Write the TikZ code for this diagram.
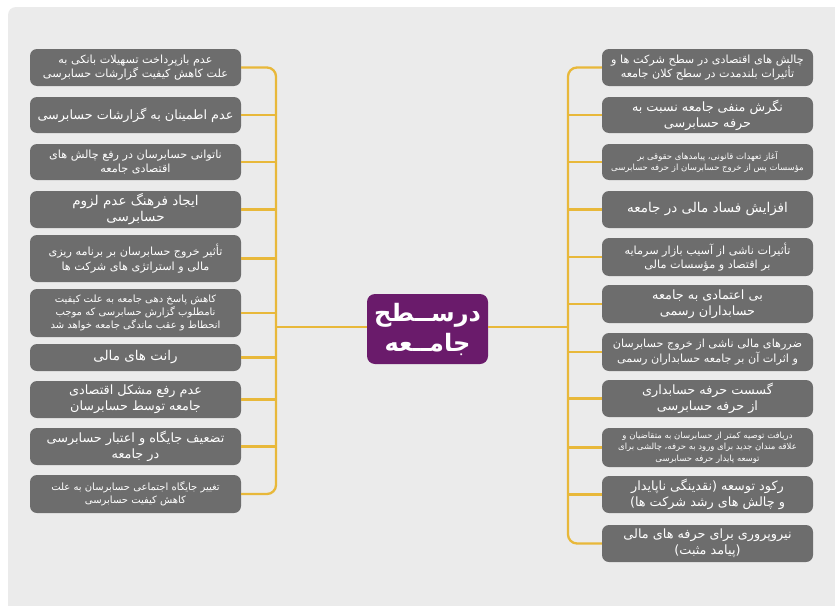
\documentclass[tikz,border=0pt]{standalone}
\usepackage{fontspec}
\newfontfamily\arabicfont[Script=Arabic]{DejaVu Sans}
\TeXXeTstate=1
\newcommand\fa[1]{\beginR #1\endR}
\definecolor{panelgray}{HTML}{EBEBEB}
\definecolor{boxgray}{HTML}{6D6D6D}
\definecolor{hubpurple}{HTML}{6A1B6B}
\definecolor{linkgold}{HTML}{E8B83A}
\tikzset{
  itembox/.style={fill=boxgray, rounded corners=7pt, minimum width=211pt, inner sep=0pt,
    text=white, align=center, font=\arabicfont\fontsize{11.2}{14.5}\selectfont},
  bigtxt/.style={font=\arabicfont\fontsize{13.5}{16}\selectfont},
  midtxt/.style={font=\arabicfont\fontsize{12.8}{16}\selectfont},
  smalltxt/.style={font=\arabicfont\fontsize{10}{13}\selectfont},
  tinytxt/.style={font=\arabicfont\fontsize{8.5}{11.5}\selectfont},
  hubbox/.style={fill=hubpurple, rounded corners=8pt, minimum width=121pt, minimum height=70pt,
    inner sep=0pt, text=white, align=center, font=\arabicfont\bfseries\fontsize{24}{30}\selectfont},
  link/.style={draw=linkgold, line width=2.3pt, rounded corners=9pt}
}
\begin{document}
\begin{tikzpicture}[x=1pt,y=-1pt]
\useasboundingbox (0,0) rectangle (835,605);
\fill[white] (0,0) rectangle (835,605);
\fill[panelgray, rounded corners=8pt] (8,7) rectangle (850,620);

% left boxes
\node[itembox, minimum height=37pt] (L1) at (135.5,67.5) {\fa{عدم بازپرداخت تسهیلات بانکی به}\\\fa{علت کاهش کیفیت گزارشات حسابرسی}};
\node[itembox, midtxt, minimum height=36pt] (L2) at (135.5,115) {\fa{عدم اطمینان به گزارشات حسابرسی}};
\node[itembox, minimum height=36pt] (L3) at (135.5,162) {\fa{ناتوانی حسابرسان در رفع چالش های}\\\fa{اقتصادی جامعه}};
\node[itembox, bigtxt, minimum height=37pt] (L4) at (135.5,209.5) {\fa{ایجاد فرهنگ عدم لزوم}\\\fa{حسابرسی}};
\node[itembox, minimum height=47pt] (L5) at (135.5,258.5) {\fa{تأثیر خروج حسابرسان بر برنامه ریزی}\\\fa{مالی و استراتژی های شرکت ها}};
\node[itembox, smalltxt, minimum height=48pt] (L6) at (135.5,313) {\fa{کاهش پاسخ دهی جامعه به علت کیفیت}\\\fa{نامطلوب گزارش حسابرسی که موجب}\\\fa{انحطاط و عقب ماندگی جامعه خواهد شد}};
\node[itembox, bigtxt, minimum height=27pt] (L7) at (135.5,357.5) {\fa{رانت های مالی}};
\node[itembox, midtxt, minimum height=37pt] (L8) at (135.5,399.5) {\fa{عدم رفع مشکل اقتصادی}\\\fa{جامعه توسط حسابرسان}};
\node[itembox, midtxt, minimum height=37pt] (L9) at (135.5,446.5) {\fa{تضعیف جایگاه و اعتبار حسابرسی}\\\fa{در جامعه}};
\node[itembox, smalltxt, minimum height=38pt] (L10) at (135.5,494) {\fa{تغییر جایگاه اجتماعی حسابرسان به علت}\\\fa{کاهش کیفیت حسابرسی}};

% right boxes
\node[itembox, minimum height=37pt] (R1) at (707.5,67.5) {\fa{چالش های اقتصادی در سطح شرکت ها و}\\\fa{تأثیرات بلندمدت در سطح کلان جامعه}};
\node[itembox, midtxt, minimum height=36pt] (R2) at (707.5,115) {\fa{نگرش منفی جامعه نسبت به}\\\fa{حرفه حسابرسی}};
\node[itembox, tinytxt, minimum height=36pt] (R3) at (707.5,162) {\fa{آغاز تعهدات قانونی، پیامدهای حقوقی بر}\\\fa{مؤسسات پس از خروج حسابرسان از حرفه حسابرسی}};
\node[itembox, bigtxt, minimum height=37pt] (R4) at (707.5,209.5) {\fa{افزایش فساد مالی در جامعه}};
\node[itembox, minimum height=38pt] (R5) at (707.5,257) {\fa{تأثیرات ناشی از آسیب بازار سرمایه}\\\fa{بر اقتصاد و مؤسسات مالی}};
\node[itembox, midtxt, minimum height=38pt] (R6) at (707.5,304) {\fa{بی اعتمادی به جامعه}\\\fa{حسابداران رسمی}};
\node[itembox, minimum height=38pt] (R7) at (707.5,352) {\fa{ضررهای مالی ناشی از خروج حسابرسان}\\\fa{و اثرات آن بر جامعه حسابداران رسمی}};
\node[itembox, midtxt, minimum height=37pt] (R8) at (707.5,398.5) {\fa{گسست حرفه حسابداری}\\\fa{از حرفه حسابرسی}};
\node[itembox, tinytxt, minimum height=39pt] (R9) at (707.5,447.5) {\fa{دریافت توصیه کمتر از حسابرسان به متقاضیان و}\\\fa{علاقه مندان جدید برای ورود به حرفه، چالشی برای}\\\fa{توسعه پایدار حرفه حسابرسی}};
\node[itembox, midtxt, minimum height=37pt] (R10) at (707.5,494.5) {\fa{رکود توسعه (نقدینگی ناپایدار}\\\fa{و چالش های رشد شرکت ها)}};
\node[itembox, midtxt, minimum height=37pt] (R11) at (707.5,543.5) {\fa{نیروپروری برای حرفه های مالی}\\\fa{(پیامد مثبت)}};

% hub
\node[hubbox] (hub) at (427.5,329) {\fa{درســطح}\\\fa{جامــعه}};

% spines
\coordinate (lspine) at (276,327);
\coordinate (rspine) at (568,327);

\draw[link] (L1.east) -| (lspine) |- (L10.east);
\foreach \n in {L2,L3,L4,L5,L6,L7,L8,L9}
  \draw[link] (\n.east) -- (\n.east -| lspine);
\draw[link] (lspine) -- (lspine -| hub.west);

\draw[link] (R1.west) -| (rspine) |- (R11.west);
\foreach \n in {R2,R3,R4,R5,R6,R7,R8,R9,R10}
  \draw[link] (\n.west) -- (\n.west -| rspine);
\draw[link] (rspine) -- (rspine -| hub.east);
\end{tikzpicture}
\end{document}
